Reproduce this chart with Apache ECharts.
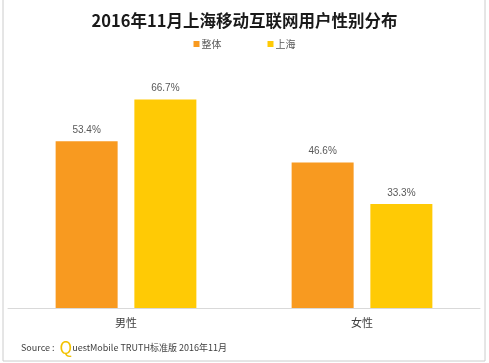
<!DOCTYPE html>
<html><head><meta charset="utf-8">
<script src="https://cdn.jsdelivr.net/npm/echarts@6/dist/echarts.min.js"></script>
<style>html,body{margin:0;padding:0;background:#fff}#c{width:489px;height:363px}</style>
</head><body><div id="c"></div>
<script>
const categories = ['男性', '女性'];
const seriesNames = ['整体', '上海'];
const overall = [53.4, 46.6];
const shanghai = [66.7, 33.3];
const colors = ['#F89A20', '#FFCA05'];

const chart = echarts.init(document.getElementById('c'), null, {renderer: 'canvas'});
const fontCN = '"Noto Sans CJK SC", "DejaVu Sans", sans-serif';
chart.setOption({
  animation: false,
  title: {
    text: '2016年11月上海移动互联网用户性别分布',
    left: 'center', top: 7,
    textStyle: {fontSize: 16.5, fontWeight: 'bold', color: '#1a1a1a', fontFamily: fontCN}
  },
  legend: {
    data: seriesNames, top: 34, left: 'center',
    itemWidth: 6, itemHeight: 6, itemGap: 46, icon: 'rect',
    textStyle: {fontSize: 10, color: '#595959', fontFamily: fontCN, padding: [0,0,0,-3]}
  },
  grid: {left: 8, right: 9, top: 58, bottom: 55},
  xAxis: {
    type: 'category', data: categories,
    axisLine: {lineStyle: {color: '#d9d9d9'}},
    axisTick: {show: false},
    axisLabel: {color: '#404040', fontSize: 11, margin: 9, fontFamily: fontCN}
  },
  yAxis: {type: 'value', min: 0, max: 80, show: false, splitLine: {show: false}},
  series: [
    {name: seriesNames[0], type: 'bar', data: overall, barWidth: 62, barGap: '27%',
     itemStyle: {color: colors[0]},
     label: {show: true, position: 'top', distance: 6, color: '#595959', fontSize: 10, formatter: p => p.value.toFixed(1) + '%'}},
    {name: seriesNames[1], type: 'bar', data: shanghai, barWidth: 62,
     itemStyle: {color: colors[1]},
     label: {show: true, position: 'top', distance: 6, color: '#595959', fontSize: 10, formatter: p => p.value.toFixed(1) + '%'}}
  ],
  graphic: [
    {type: 'polyline', shape: {points: [[3,0],[3,361],[485,361],[485,0]]}, style: {stroke: '#cccccc', lineWidth: 1, fill: null}},
    {type: 'text', left: 21, top: 339,
     style: {
       text: '{a|Source : }{q|Q}{b|uestMobile TRUTH标准版 2016年11月}',
       rich: {
         a: {fontSize: 9, fill: '#404040', fontFamily: fontCN, padding: [0,3,0,0]},
         q: {fontSize: 17, fill: '#F2C200', fontFamily: fontCN},
         b: {fontSize: 9, fill: '#404040', fontFamily: fontCN}
       }
     }}
  ]
});
</script></body></html>
